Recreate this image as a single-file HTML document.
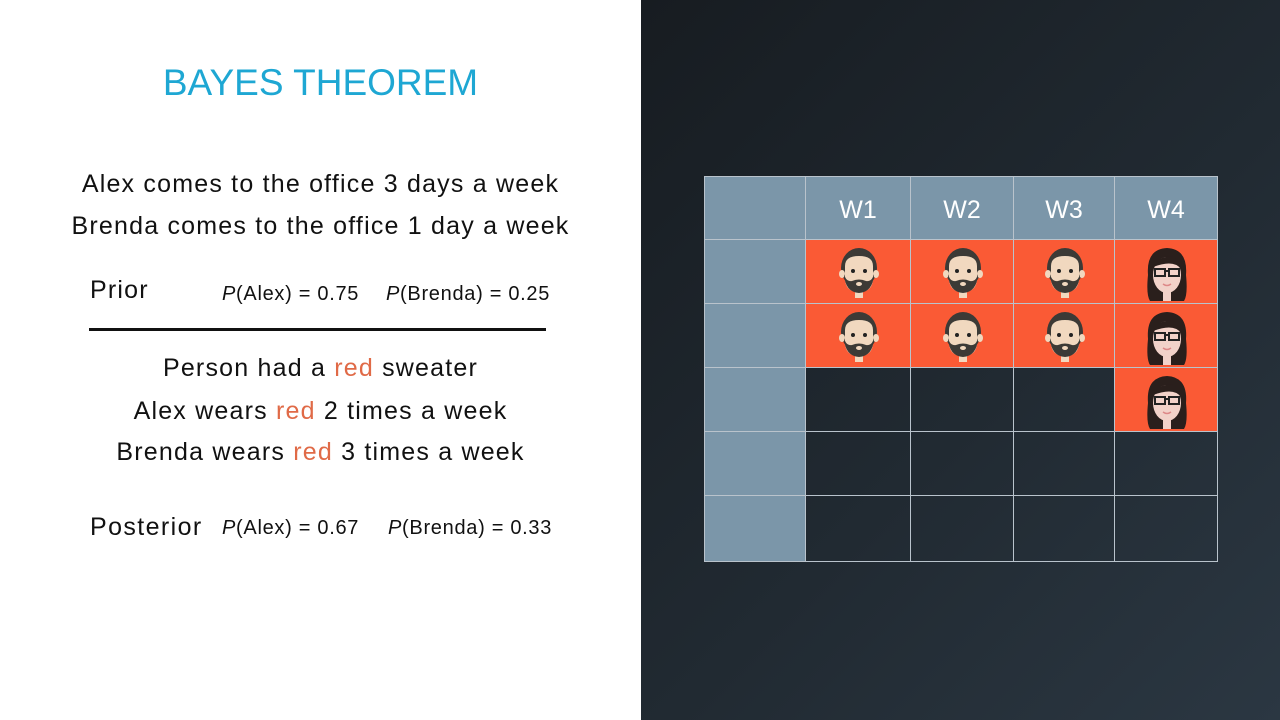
<!DOCTYPE html>
<html><head><style>
body{margin:0;width:1280px;height:720px;overflow:hidden;font-family:"Liberation Sans",sans-serif;position:relative}
#L{position:absolute;left:0;top:0;width:641px;height:720px;background:#fff}
#R{position:absolute;left:641px;top:0;width:639px;height:720px;background:linear-gradient(135deg,#171c21 0%,#212a32 55%,#2b3742 100%)}
.t{position:absolute;white-space:nowrap;color:#111;font-size:25px;letter-spacing:1.2px}
.c{position:absolute;left:0;width:641px;text-align:center}
.r{color:#e06a47}
.s{font-size:20px;letter-spacing:0.7px}
.cell{position:absolute;box-sizing:border-box;border:1px solid #b9c3cc}
.h{color:#fff;font-size:25px;text-align:center;line-height:66px}
</style></head><body>
<div id="L"></div><div id="R"></div>
<svg width="0" height="0" style="position:absolute">
<defs>
<g id="m">
<rect x="16" y="40" width="8" height="10" fill="#f1d8bf"/>
<ellipse cx="20" cy="20" rx="18" ry="20" fill="#3c3a36"/>
<ellipse cx="3" cy="26" rx="3" ry="4" fill="#f1d8bf"/>
<ellipse cx="37" cy="26" rx="3" ry="4" fill="#f1d8bf"/>
<path d="M6 18 Q6 8 20 8 Q34 8 34 18 L34 30 Q34 44 20 44 Q6 44 6 30Z" fill="#f1d8bf"/>
<path d="M5 26 Q6 44 20 45 Q34 44 35 26 Q33 34 27 33 Q20 30 13 33 Q7 34 5 26Z" fill="#3c3a36"/>
<ellipse cx="20" cy="36" rx="3" ry="2" fill="#f1d8bf"/>
<circle cx="14" cy="23" r="2" fill="#222"/><circle cx="26" cy="23" r="2" fill="#222"/>
</g>
<g id="f">
<path d="M4 30 Q2 4 23 3 Q44 4 42 30 Q44 50 40 56 L6 56 Q2 50 4 30Z" fill="#2a1f1c"/>
<rect x="19" y="46" width="8" height="10" fill="#f2d2c9"/>
<ellipse cx="23" cy="30" rx="14" ry="18" fill="#f2d2c9"/>
<path d="M9 22 Q14 10 30 12 Q36 16 37 24 Q30 14 9 22Z" fill="#2a1f1c"/>
<rect x="11" y="24" width="10" height="7" fill="none" stroke="#222" stroke-width="2"/>
<rect x="25" y="24" width="10" height="7" fill="none" stroke="#222" stroke-width="2"/>
<line x1="21" y1="26" x2="25" y2="26" stroke="#222" stroke-width="2"/>
<path d="M19 39 Q23 42 27 39" stroke="#d88" stroke-width="1.5" fill="none"/>
</g>
</defs></svg>

<div class="c" style="top:62px;color:#1ea7d3;font-size:37px">BAYES THEOREM</div>
<div class="c t" style="top:170px">Alex comes to the office 3 days a week</div>
<div class="c t" style="top:212px">Brenda comes to the office 1 day a week</div>
<div class="t" style="left:90px;top:276px">Prior</div>
<div class="t s" style="left:222px;top:283px"><i>P</i>(Alex) = 0.75</div>
<div class="t s" style="left:386px;top:283px"><i>P</i>(Brenda) = 0.25</div>
<div style="position:absolute;left:89px;top:328px;width:457px;height:3px;background:#111"></div>
<div class="c t" style="top:354px">Person had a <span class="r">red</span> sweater</div>
<div class="c t" style="top:397px">Alex wears <span class="r">red</span> 2 times a week</div>
<div class="c t" style="top:438px">Brenda wears <span class="r">red</span> 3 times a week</div>
<div class="t" style="left:90px;top:513px;letter-spacing:1.4px">Posterior</div>
<div class="t s" style="left:222px;top:517px"><i>P</i>(Alex) = 0.67</div>
<div class="t s" style="left:388px;top:517px"><i>P</i>(Brenda) = 0.33</div>

<div id="g"></div>
<script>
var xs=[704,805,910,1013,1114,1217],ys=[176,239,303,367,431,495,561];
var o='';
for(var r=0;r<6;r++)for(var c=0;c<5;c++){
 var x=xs[c],y=ys[r],w=xs[c+1]-x+1,h=ys[r+1]-y+1;
 var bg='transparent';
 if(r==0||c==0)bg='#7b96a9';
 else if((r==1||r==2)||(r==3&&c==4))bg='#fa5a35';
 var txt=(r==0&&c>0)?('W'+c):'';
 var face='';
 if(r>=1&&bg=='#fa5a35'&&c>0){
  if(c==4)face='<svg width="46" height="58" style="position:absolute;left:'+(w/2-23)+'px;top:'+(h/2-28)+'px"><use href="#f"/></svg>';
  else face='<svg width="40" height="52" style="position:absolute;left:'+(w/2-20)+'px;top:'+(h/2-25)+'px"><use href="#m"/></svg>';
 }
 o+='<div class="cell h" style="left:'+x+'px;top:'+y+'px;width:'+w+'px;height:'+h+'px;background:'+bg+'">'+txt+face+'</div>';
}
document.getElementById('g').innerHTML=o;
</script>
</body></html>
